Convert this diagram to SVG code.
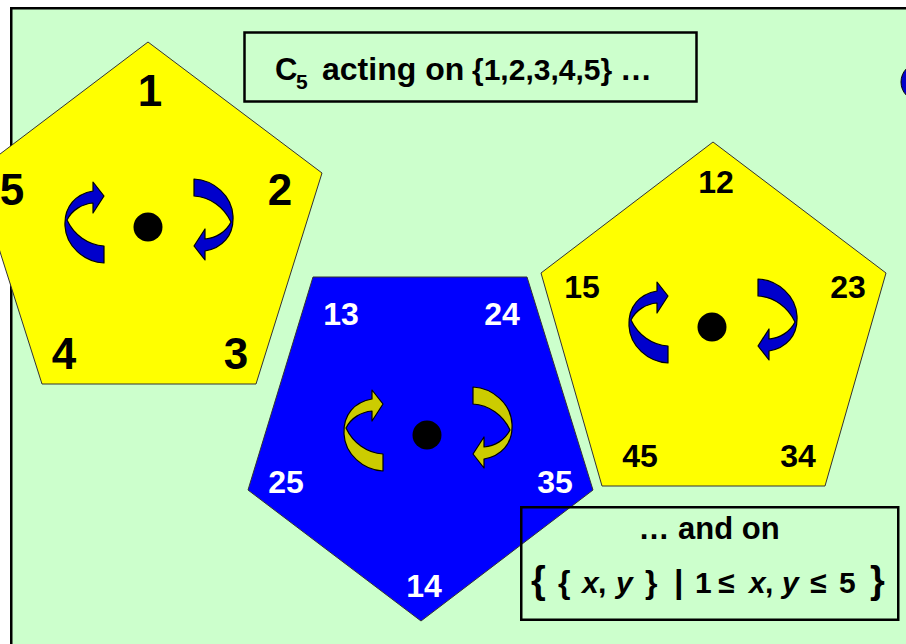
<svg xmlns="http://www.w3.org/2000/svg" xmlns:xlink="http://www.w3.org/1999/xlink" width="906" height="644" viewBox="0 0 906 644">
<style>
.bg{fill:#CCFFCC;stroke:#000;stroke-width:2.5}
.pent{stroke:#333;stroke-width:1}
.yel{fill:#FFFF00}
.blu{fill:#0000FF}
.arB{fill:#0000CC;stroke:#000;stroke-width:1.2;stroke-linejoin:round}
.arY{fill:#CCCC00;stroke:#000;stroke-width:1.2;stroke-linejoin:round}
.lb{font-family:"Liberation Sans",Arial,sans-serif;font-weight:bold;text-anchor:middle}
.big{font-size:44px;fill:#000}
.mb{font-size:32px;fill:#000}
.mw{font-size:32px;fill:#fff}
.box{fill:none;stroke:#000;stroke-width:2.5}
.t{font-family:"Liberation Sans",Arial,sans-serif;font-weight:bold;fill:#000}
.it{font-style:italic}
</style>
<defs>
<path id="arr" d="M-45,25 L-45,42 C-65,41 -83,25 -84,5 C-85,-15 -73,-27 -56,-30 L-56,-39 L-45,-25 L-56,-8 L-56,-18 C-67,-17 -77,-11 -82,-1 C-75,14 -61,24 -45,25 Z"/>
</defs>
<rect x="0" y="0" width="906" height="644" fill="#fff"/>
<rect class="bg" x="11.25" y="8.25" width="1000" height="1000"/>

<g id="pentagon1">
<polygon class="pent yel" points="148,42 322,173 256,384 42,384 -25,173"/>
<g transform="translate(149,221)">
<use xlink:href="#arr" class="arB"/>
<use xlink:href="#arr" class="arB" transform="rotate(180)"/>
<circle cx="-1" cy="6" r="14.5" fill="#000"/>
</g>
<text class="lb big" x="150" y="106">1</text>
<text class="lb big" x="12" y="205">5</text>
<text class="lb big" x="280" y="205">2</text>
<text class="lb big" x="64" y="369">4</text>
<text class="lb big" x="236" y="369">3</text>
</g>

<g id="pentagon2">
<polygon class="pent blu" points="313,277 527,277 593,490 421,621 248,490"/>
<g transform="translate(428,429)">
<use xlink:href="#arr" class="arY"/>
<use xlink:href="#arr" class="arY" transform="rotate(180)"/>
<circle cx="-1" cy="6" r="14.5" fill="#000"/>
</g>
<text class="lb mw" x="341" y="325">13</text>
<text class="lb mw" x="502" y="325">24</text>
<text class="lb mw" x="286" y="493">25</text>
<text class="lb mw" x="555" y="493">35</text>
<text class="lb mw" x="424" y="597">14</text>
</g>

<g id="pentagon3">
<polygon class="pent yel" points="713,142 886,273 825,486 602,486 541,273"/>
<g transform="translate(713,321)">
<use xlink:href="#arr" class="arB"/>
<use xlink:href="#arr" class="arB" transform="rotate(180)"/>
<circle cx="-1" cy="6" r="14.5" fill="#000"/>
</g>
<text class="lb mb" x="716" y="193">12</text>
<text class="lb mb" x="582" y="298">15</text>
<text class="lb mb" x="848" y="298">23</text>
<text class="lb mb" x="640" y="467">45</text>
<text class="lb mb" x="798" y="467">34</text>
</g>

<g id="circle-right">
<circle cx="920" cy="82" r="19" fill="#0000CC" stroke="#000" stroke-width="1"/>
</g>

<g id="title-box">
<rect class="box" x="244.5" y="32.5" width="452" height="69"/>
<text class="t" y="80" font-size="31"><tspan x="275">C</tspan><tspan x="296" dy="9" font-size="21">5</tspan><tspan x="322" dy="-9" font-size="32">acting on</tspan><tspan x="472" font-size="30">{1,2,3,4,5}</tspan><tspan x="620" font-size="32">…</tspan></text>
</g>

<g id="set-box">
<rect class="box" x="521.25" y="507.25" width="377" height="112.5"/>
<text class="t" x="709" y="539" font-size="31" text-anchor="middle">… and on</text>
<text class="t" y="593" font-size="30"><tspan x="531" font-size="38">{</tspan><tspan x="558" font-size="32">{</tspan><tspan x="582" class="it">x</tspan><tspan x="598">,</tspan><tspan x="616" class="it">y</tspan><tspan x="645" font-size="32">}</tspan><tspan x="674" font-size="34">|</tspan><tspan x="695">1</tspan><tspan x="718">≤</tspan><tspan x="749" class="it">x</tspan><tspan x="765">,</tspan><tspan x="782" class="it">y</tspan><tspan x="810">≤</tspan><tspan x="839">5</tspan><tspan x="870" font-size="38">}</tspan></text>
</g>
</svg>
